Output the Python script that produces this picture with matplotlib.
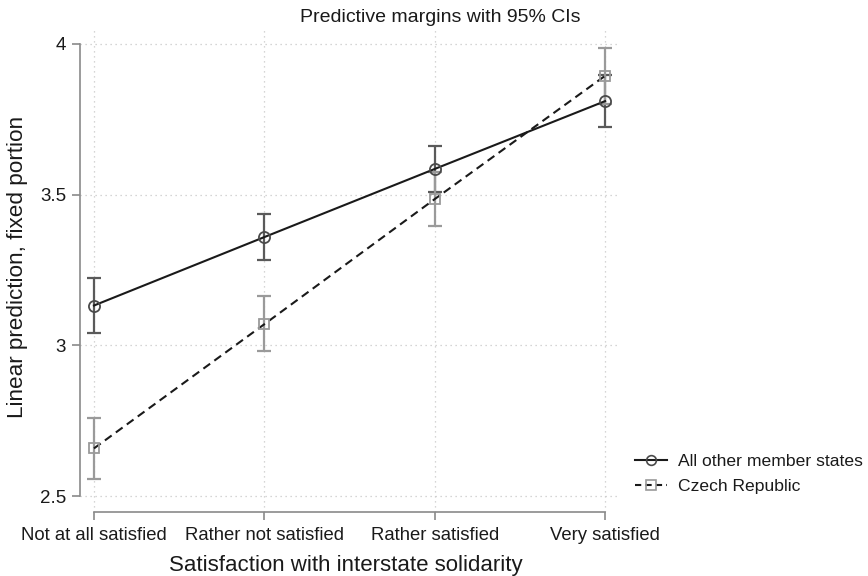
import matplotlib
matplotlib.use("Agg")
import matplotlib.pyplot as plt
from matplotlib.lines import Line2D
import numpy as np

plt.rcParams['font.family'] = ['Liberation Sans', 'DejaVu Sans']

categories = ["Not at all satisfied", "Rather not satisfied", "Rather satisfied", "Very satisfied"]
others = [3.132, 3.359, 3.585, 3.810]
others_lo = [3.040, 3.282, 3.510, 3.724]
others_hi = [3.224, 3.436, 3.661, 3.896]
czech = [2.658, 3.070, 3.485, 3.894]
czech_lo = [2.558, 2.980, 3.395, 3.800]
czech_hi = [2.760, 3.163, 3.575, 3.987]
yticks = [2.5, 3, 3.5, 4]
ytick_labels = ["2.5", "3", "3.5", "4"]

W, H = 868, 576
fig = plt.figure(figsize=(W / 100, H / 100), dpi=100)
L, R, T, B = 80, 617, 30, 512
ax = fig.add_axes([L / W, 1 - B / H, (R - L) / W, (B - T) / H])

x = np.arange(len(categories))
ax.set_xlim(-0.082, 3.070)
ax.set_ylim(2.447, 4.046)

grid_kw = dict(color="#c8c8c8", lw=0.9, ls=(0, (1, 3)), zorder=0)
for v in yticks:
    ax.axhline(v, **grid_kw)
for xi in x:
    ax.axvline(xi, **grid_kw)

others = np.array(others); czech = np.array(czech)
ax.errorbar(x, others, yerr=[others - np.array(others_lo), np.array(others_hi) - others],
            fmt="none", ecolor="#5a5a5a", elinewidth=1.6, capsize=5, capthick=1.6, zorder=2)
ax.errorbar(x, czech, yerr=[czech - np.array(czech_lo), np.array(czech_hi) - czech],
            fmt="none", ecolor="#9a9a9a", elinewidth=1.6, capsize=5, capthick=1.6, zorder=2)
ax.plot(x, others, color="#1a1a1a", lw=1.5, zorder=3)
ax.plot(x, others, ls="none", marker="o", ms=8, mfc="none", mec="#4a4a4a", mew=1.3, zorder=4)
ax.plot(x, czech, color="#1a1a1a", lw=1.5, ls=(0, (4, 2.5)), zorder=3)
ax.plot(x, czech, ls="none", marker="s", ms=7.5, mfc="none", mec="#9a9a9a", mew=1.3, zorder=4)

for s in ["top", "right"]:
    ax.spines[s].set_visible(False)
ax.spines["left"].set_bounds(2.5, 4)
ax.spines["bottom"].set_bounds(0, 3)
for s in ["left", "bottom"]:
    ax.spines[s].set_color("#8a8a8a")
    ax.spines[s].set_linewidth(1.2)

ax.set_yticks(yticks)
ax.set_yticklabels(ytick_labels)
ax.set_xticks(x)
ax.set_xticklabels(categories)
ax.tick_params(axis="both", colors="#8a8a8a", length=6, width=1.2, labelcolor="#1a1a1a")
ax.tick_params(axis="x", pad=5, labelsize=13.3)
ax.tick_params(axis="y", pad=4, labelsize=13.5)

fig.text(440 / W, 1 - 17 / H, "Predictive margins with 95% CIs", ha="center", va="center",
         fontsize=14, color="#1a1a1a")
fig.text(18 / W, 1 - 267 / H, "Linear prediction, fixed portion", ha="center", va="center",
         rotation=90, fontsize=16.2, color="#1a1a1a")
fig.text(346 / W, 1 - 565 / H, "Satisfaction with interstate solidarity", ha="center", va="center",
         fontsize=16, color="#1a1a1a")

handles = [
    Line2D([], [], color="#1a1a1a", lw=1.5, marker="o", ms=7, mfc="none", mec="#4a4a4a", mew=1.2),
    Line2D([], [], color="#1a1a1a", lw=1.5, ls=(0, (3, 2)), marker="s", ms=7, mfc="none", mec="#9a9a9a", mew=1.2),
]
fig.legend(handles, ["All other member states", "Czech Republic"], loc="center left",
           bbox_to_anchor=(635 / W, 1 - 474 / H), frameon=False, fontsize=12.6,
           borderpad=0, borderaxespad=0,
           handlelength=1.85, handletextpad=0.6, labelspacing=0.6, labelcolor="#1a1a1a")

fig.savefig("out.png", dpi=100)
